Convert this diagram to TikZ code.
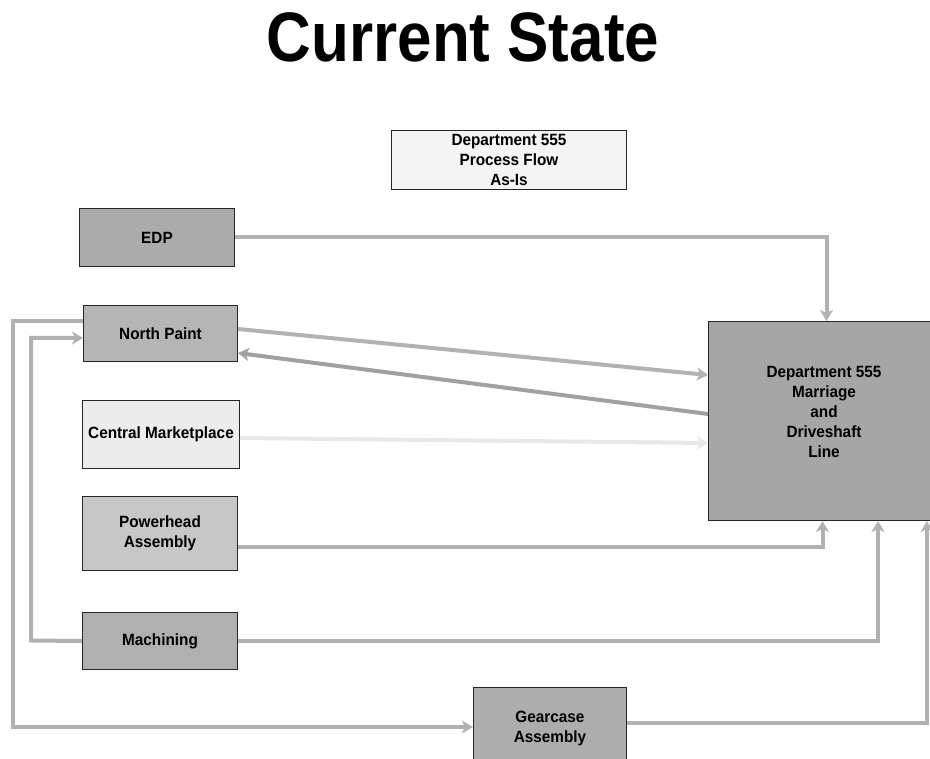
\documentclass[tikz,border=0pt]{standalone}
\usepackage{fontspec}
\setmainfont{Liberation Sans}
\newfontfamily\boxfont[FakeStretch=0.94]{Liberation Sans}
\newfontfamily\titlefont[FakeStretch=0.885]{Liberation Sans}
\usetikzlibrary{arrows.meta}
\definecolor{gEDP}{gray}{0.67}
\definecolor{gNP}{gray}{0.71}
\definecolor{gMach}{gray}{0.69}
\definecolor{gGear}{gray}{0.68}
\definecolor{gDept}{gray}{0.65}
\definecolor{gPH}{gray}{0.78}
\definecolor{gCM}{gray}{0.925}
\definecolor{gTitle}{gray}{0.955}
\definecolor{lineA}{gray}{0.70}
\definecolor{lineB}{gray}{0.63}
\definecolor{lineC}{gray}{0.91}
\begin{document}
\begin{tikzpicture}[x=1pt,y=-1pt,
  boxtext/.style={font=\boxfont\bfseries\fontsize{16.3}{20}\selectfont, align=center, inner sep=0pt},
  box/.style={boxtext, draw=black!85, line width=1pt, anchor=north west},
  conn/.style={draw=lineA, line width=4pt, -{Stealth[length=11pt,width=13pt,inset=3pt]}},
]
\path[use as bounding box] (0,0) rectangle (930,759);
\clip (0,0) rectangle (930,759);

\node[font=\titlefont\bfseries\fontsize{70}{70}\selectfont, anchor=base, inner sep=0pt] (title) at (463,62) {Current State};

\node[box, fill=gTitle, minimum width=235pt, minimum height=59pt] (flow) at (391,130) {Department 555\\Process Flow\\As-Is};
\node[box, fill=gEDP, minimum width=155pt, minimum height=58pt] (edp) at (79,208) {EDP};
\node[box, fill=gNP, minimum width=154pt, minimum height=56pt] (np) at (83,305) {North Paint};
\node[box, fill=gCM, minimum width=157pt, minimum height=68pt] (cm) at (82,400) {Central Marketplace};
\node[box, fill=gPH, minimum width=155pt, minimum height=74pt] (ph) at (82,496) {Powerhead\\Assembly};
\node[box, fill=gMach, minimum width=155pt, minimum height=57pt] (mach) at (82,612) {Machining};
\node[box, fill=gGear, minimum width=153pt, minimum height=82pt] (gc) at (473,687) {Gearcase\\Assembly};
\node[box, fill=gDept, minimum width=232pt, minimum height=199pt] (dept) at (708,321) {};
\node[boxtext] (deptlbl) at (824,412) {Department 555\\Marriage\\and\\Driveshaft\\Line};

\draw[conn] (edp.east) -| ([xshift=2pt]dept.north);
\draw[conn] (np.east |- 0,329) -- (dept.west |- 0,375);
\draw[conn, draw=lineB] (dept.west |- 0,414) -- (np.east |- 0,353);
\draw[conn, draw=lineC] (cm.east |- 0,438) -- (dept.west |- 0,443);
\draw[conn] (ph.east |- 0,547) -| ([xshift=-2pt]dept.south);
\draw[conn] (mach.east) -| (878,0 |- dept.south);
\draw[conn] (gc.east |- 0,723) -| (927,0 |- dept.south);
\draw[conn] (np.west |- 0,321) -- (13,321) |- (gc.west |- 0,727);
\draw[conn] (mach.west) -- (31,640.5) |- (np.west |- 0,338);
\end{tikzpicture}
\end{document}
